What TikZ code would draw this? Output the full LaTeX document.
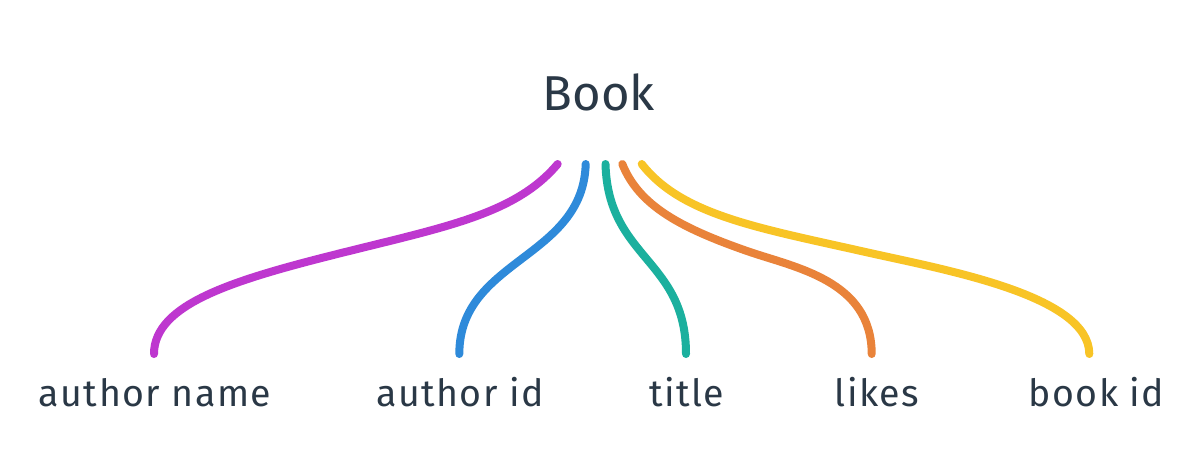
\documentclass[tikz,border=0pt]{standalone}
\usepackage{fontspec}
\setmainfont{Fira Sans}
\definecolor{ink}{HTML}{2A3846}
\definecolor{cpurple}{HTML}{BE37CF}
\definecolor{cblue}{HTML}{2E8ADA}
\definecolor{cteal}{HTML}{1BB09E}
\definecolor{corange}{HTML}{E9833A}
\definecolor{cyellow}{HTML}{F8C426}
\begin{document}
\begin{tikzpicture}[x=1pt,y=-1pt,
  field/.style={line width=8pt,line cap=round},
  label/.style={text=ink,inner sep=0pt,anchor=base,
    font=\fontsize{37.5}{40}\selectfont\addfontfeature{LetterSpace=4}},
  head/.style={text=ink,inner sep=0pt,anchor=base,font=\fontsize{49}{54}\selectfont}]
\useasboundingbox[fill=white] (0,0) rectangle (1194,448);

% title and field labels
\node[head]  (book)  at (599,110.5) {Book};
\node[label] (aname) at (155,406.5) {author name};
\node[label] (aid)   at (460,406.5) {author id};
\node[label] (title) at (686.5,406.5) {title};
\node[label] (likes) at (877,406.5) {likes};
\node[label] (bid)   at (1096.5,406.5) {book id};

% connector end points
\coordinate (s1) at (557.7,164);  \coordinate (e1) at (154,354);
\coordinate (s2) at (585.7,164);  \coordinate (e2) at (459.3,354);
\coordinate (s3) at (605.5,164);  \coordinate (e3) at (686,354);
\coordinate (s4) at (622.3,164);  \coordinate (e4) at (871.7,354);
\coordinate (s5) at (641.7,164);  \coordinate (e5) at (1089.3,354);

% connectors
\draw[field,cpurple] (s1) .. controls (515.9,213.8) and (446.7,226.6) .. (340,253.3)
                          .. controls (233.3,280) and (154,304) .. (e1);
\draw[field,cblue]   (s2) .. controls (583,259) and (459.3,259) .. (e2);
\draw[field,cteal]   (s3) .. controls (608,259) and (686,259) .. (e3);
\draw[field,corange] (s4) .. controls (639,205.8) and (680.9,227.9) .. (747,251)
                          .. controls (794.2,267.5) and (871.7,280) .. (e4);
\draw[field,cyellow] (s5) .. controls (681.7,215.2) and (758.1,227.8) .. (865.5,252)
                          .. controls (943.6,269.6) and (1089.3,295) .. (e5);
\end{tikzpicture}
\end{document}
